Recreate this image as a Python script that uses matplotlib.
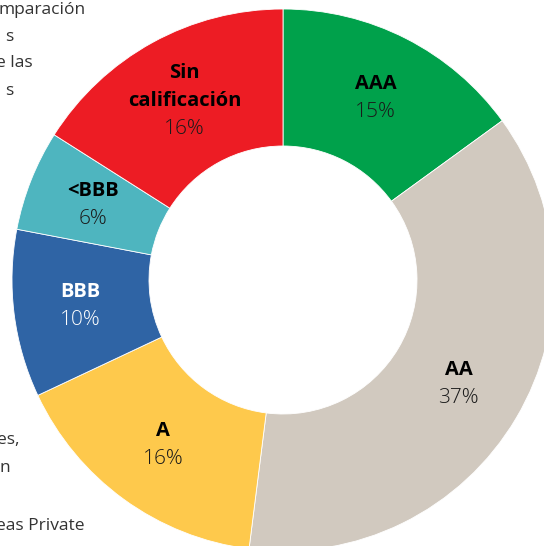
import numpy as np
import matplotlib
matplotlib.use("Agg")
import matplotlib.pyplot as plt
from matplotlib import font_manager as fm

# calificaciones, en sentido horario desde arriba
labels = ["AAA", "AA", "A", "BBB", "<BBB", "Sin\ncalificación"]
shares = [15, 37, 16, 10, 6, 16]
colors = ["#00A14B", "#D1C9BF", "#FEC94C", "#2F64A5", "#4EB5BF", "#ED1C24"]
label_colors = ["black", "black", "black", "white", "black", "black"]

# fragmentos del texto del informe que quedan al borde
side_text = ["mparación", "s", "e las", "s", "es,", "n", "eas Private"]
side_x = [86, 13, 33, 13, 20, 10, 85]
side_y = [10, 37, 63, 91, 440, 468, 526]

plt.rcParams['font.family'] = ['Open Sans', 'DejaVu Sans']

# fuente fina, recta y de ancho normal para los porcentajes (si existe)
pct_font = fm.FontProperties(family="Open Sans", size=15)
for f in fm.fontManager.ttflist:
    fn = f.fname.lower()
    if f.name == "Open Sans" and f.style == "normal" and f.weight == 300 \
            and f.stretch == "normal" and "italic" not in fn \
            and "condensed" not in fn and "semi" not in fn:
        pct_font = fm.FontProperties(fname=f.fname, size=15)
        break

fig = plt.figure(figsize=(5.44, 5.46), dpi=100)
ax = fig.add_axes([0, 0, 1, 1])

cx, cy = 283, 546 - 280
r_out, r_in = 271, 134

ax.pie(shares, colors=colors, radius=r_out, center=(cx, cy),
       startangle=90, counterclock=False,
       wedgeprops=dict(width=r_out - r_in, edgecolor="white", linewidth=0.6))

# etiquetas en el centro de cada sector
r_lab = 204
step = 28
start = 90.0
for lab, val, tc in zip(labels, shares, label_colors):
    span = val / sum(shares) * 360
    mid = np.deg2rad(start - span / 2)
    start -= span
    x = cx + r_lab * np.cos(mid)
    y = cy + r_lab * np.sin(mid)
    lines = lab.split("\n")
    n = len(lines) + 1
    y0 = y + step * (n - 1) / 2
    for k, ln in enumerate(lines):
        ax.text(x, y0 - k * step, ln, ha="center", va="center",
                fontsize=14.5, fontweight="bold", color=tc)
    ax.text(x, y0 - len(lines) * step, f"{val}%", ha="center", va="center",
            fontproperties=pct_font,
            color="white" if tc == "white" else "#1a1a1a")

for t, x, y in zip(side_text, side_x, side_y):
    ax.text(x, 546 - y, t, ha="right", va="center", fontsize=12.5,
            color="#333333")

ax.set_xlim(0, 544)
ax.set_ylim(0, 546)
ax.set_aspect("auto")
ax.axis("off")

fig.savefig("out.png", dpi=100)
